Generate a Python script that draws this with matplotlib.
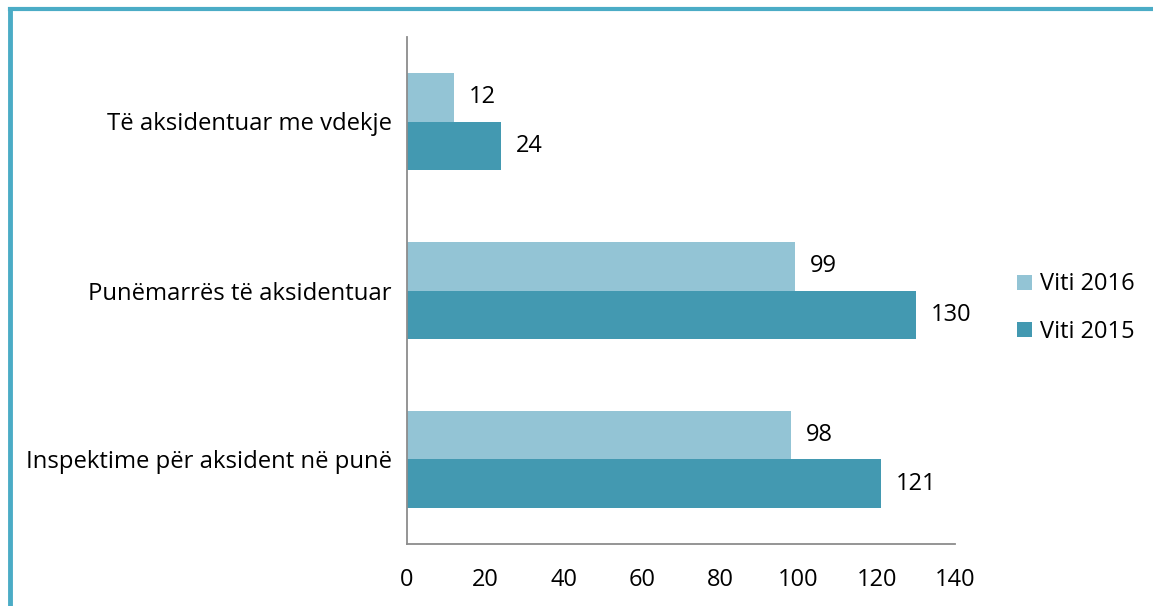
import numpy as np
import matplotlib.pyplot as plt
from matplotlib.lines import Line2D

# Data
categories = ['Inspektime për aksident në punë', 'Punëmarrës të aksidentuar', 'Të aksidentuar me vdekje']
viti_2016 = [98, 99, 12]
viti_2015 = [121, 130, 24]
series_names = ['Viti 2016', 'Viti 2015']
x_ticks = [0, 20, 40, 60, 80, 100, 120, 140]

plt.rcParams['font.family'] = ['Open Sans', 'DejaVu Sans']

fig = plt.figure(figsize=(11.53, 6.06), dpi=100)
ax = fig.add_axes([407 / 1153, 1 - 544 / 606, (955 - 407) / 1153, (544 - 37) / 606])

y = np.arange(len(categories))
h = 0.285
c16 = '#93C4D5'
c15 = '#4399B1'

b16 = ax.barh(y + h / 2, viti_2016, height=h, color=c16, label=series_names[0])
b15 = ax.barh(y - h / 2, viti_2015, height=h, color=c15, label=series_names[1])

# Value labels
for bars, vals in [(b16, viti_2016), (b15, viti_2015)]:
    for bar, v in zip(bars, vals):
        ax.annotate(str(v), (v, bar.get_y() + bar.get_height() / 2),
                    xytext=(11, 0), textcoords='offset points',
                    va='center', ha='left', fontsize=17)

ax.set_xlim(0, 140)
ax.set_ylim(-0.5, 2.5)
ax.set_xticks(x_ticks)
ax.set_xticklabels([str(t) for t in x_ticks], fontsize=17)
ax.set_yticks(y)
ax.set_yticklabels(categories, fontsize=17.2)
ax.tick_params(axis='both', length=0)
ax.tick_params(axis='x', pad=17)
ax.tick_params(axis='y', pad=11)

for s in ['top', 'right']:
    ax.spines[s].set_visible(False)
for s in ['left', 'bottom']:
    ax.spines[s].set_color('#8C8C8C')
    ax.spines[s].set_linewidth(1.3)

ax.legend(loc='center left', bbox_to_anchor=(1.075, 0.465), frameon=False,
          fontsize=17, handlelength=0.6, handleheight=0.6, labelspacing=1.0,
          handletextpad=0.35)

# Frame lines (top and left) around the chart
border = '#4BACC6'
fig.add_artist(Line2D([10 / 1153, 1], [1 - 9 / 606, 1 - 9 / 606],
                      transform=fig.transFigure, color=border, linewidth=3))
fig.add_artist(Line2D([10 / 1153, 10 / 1153], [0, 1 - 9 / 606],
                      transform=fig.transFigure, color=border, linewidth=3.5))

fig.savefig('out.png', dpi=100)
